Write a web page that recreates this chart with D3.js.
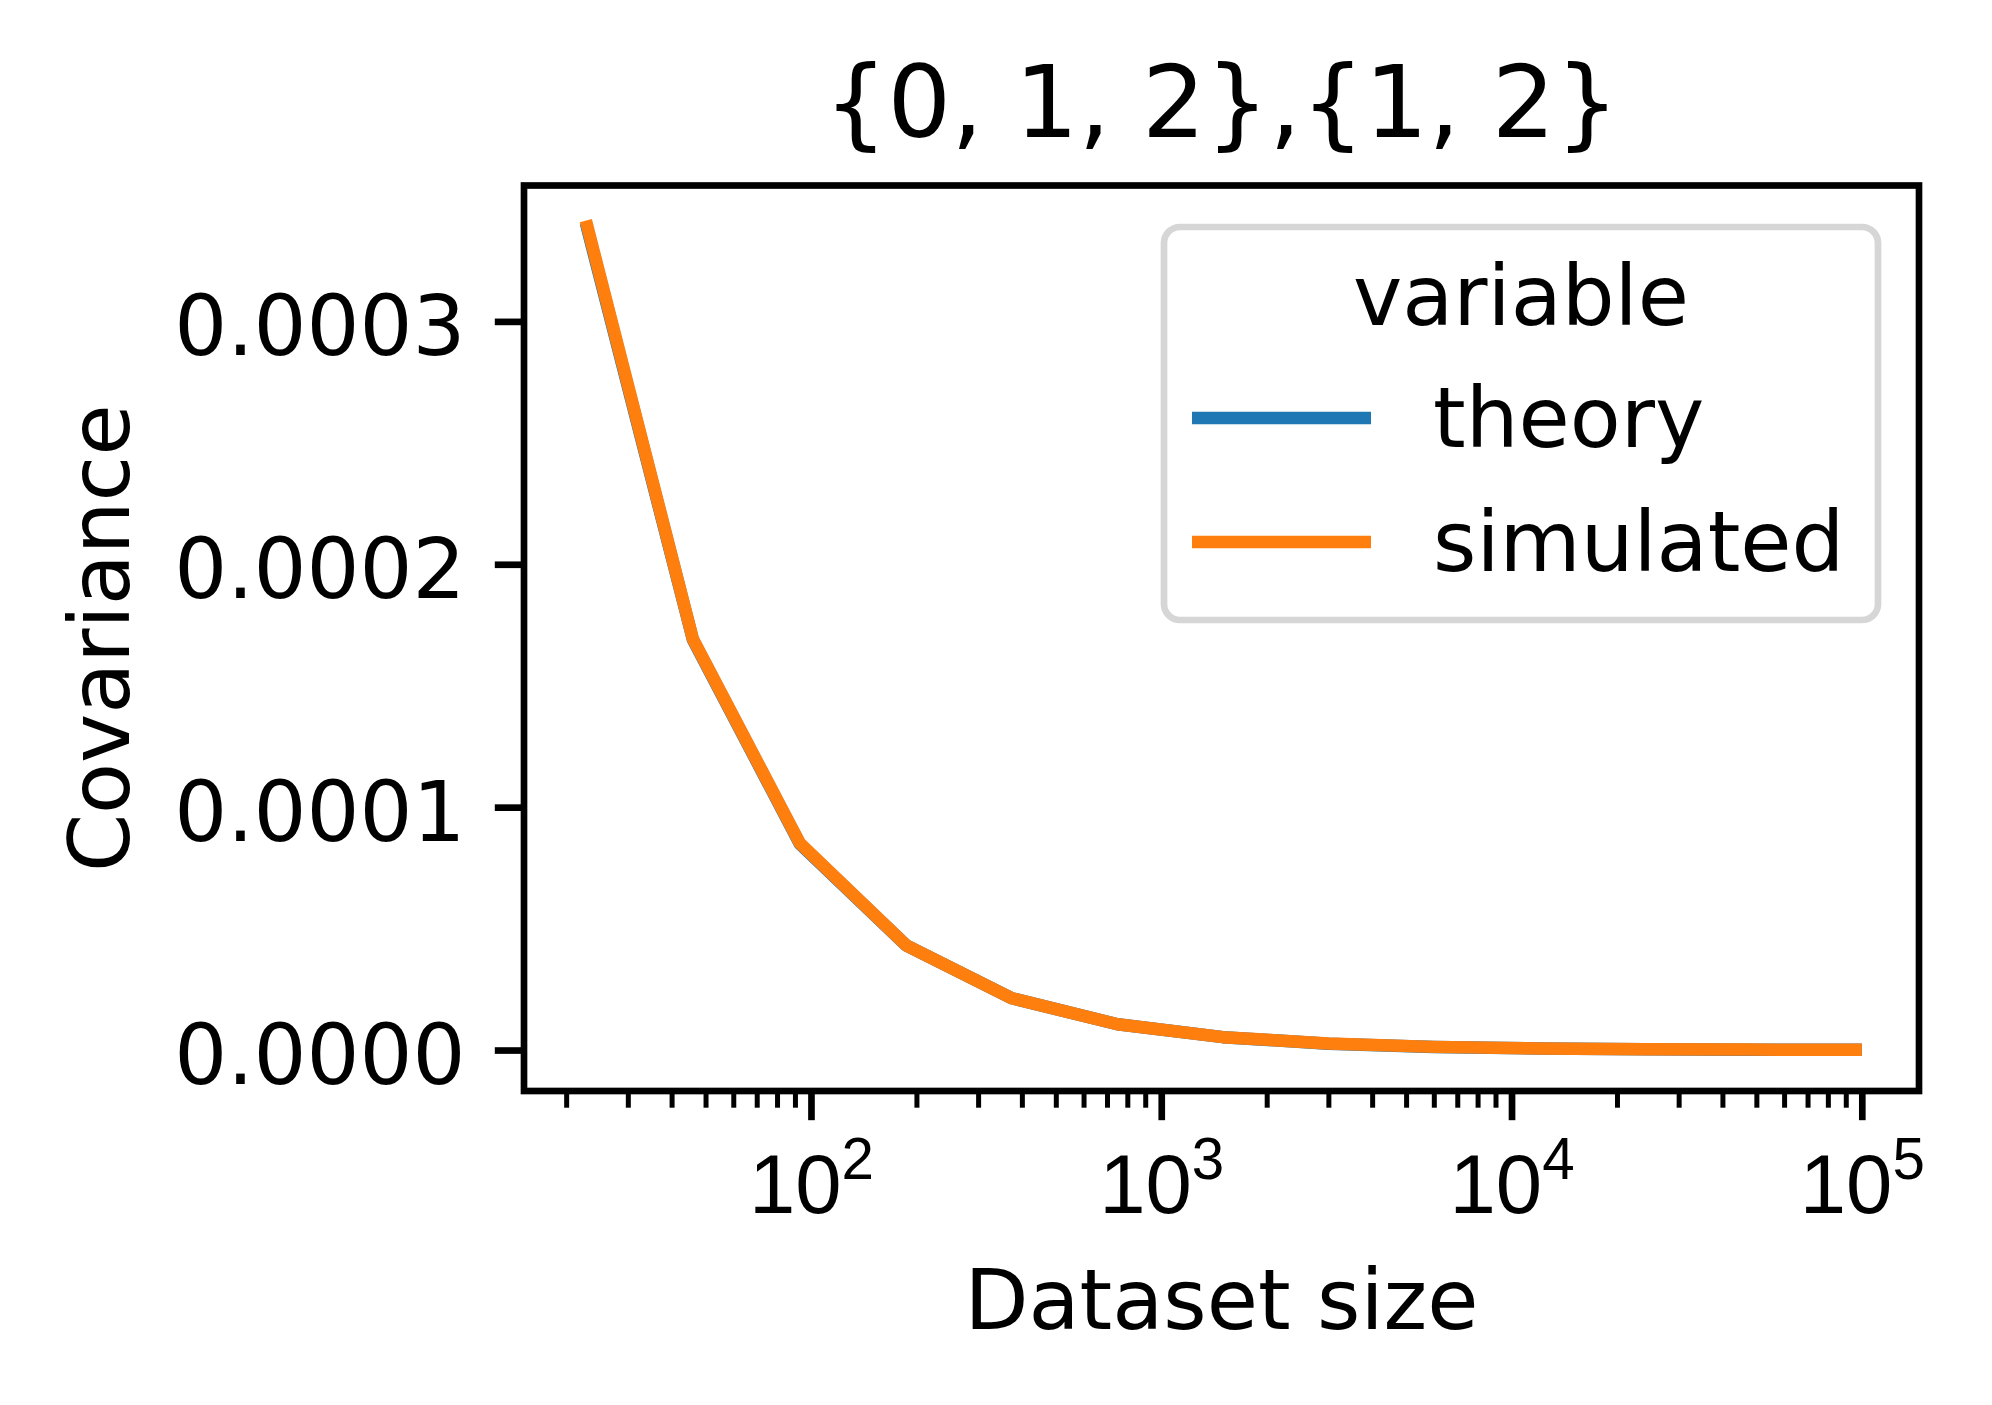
<!DOCTYPE html>
<html>
<head>
<meta charset="utf-8">
<script src="https://cdn.jsdelivr.net/npm/d3@7"></script>
<style>
  html, body { margin: 0; padding: 0; background: #fff; }
  svg { display: block; font-family: "DejaVu Sans", sans-serif; }
</style>
</head>
<body>
<div id="graph"></div>
<script>
// dataset sizes (x) and covariance values
const sizes = [23, 46, 93, 187, 375, 750, 1500, 3000, 6000, 12000, 24000, 48000, 96000];
const theory = [0.000338, 0.0001690, 0.0000848, 0.0000431, 0.0000213, 0.0000106, 0.0000053, 0.0000026, 0.0000013, 0.00000066, 0.00000033, 0.00000016, 0.00000008];
const simulated = [0.000339, 0.0001693, 0.0000851, 0.0000431, 0.0000213, 0.0000106, 0.0000053, 0.0000027, 0.0000013, 0.00000065, 0.00000033, 0.00000017, 0.00000008];
const seriesNames = ["theory", "simulated"];
const seriesColors = ["#1f77b4", "#ff7f0e"];
const yTicks = [0, 0.0001, 0.0002, 0.0003];
const xTicks = [100, 1000, 10000, 100000];
const xTickExp = ["2", "3", "4", "5"];

let width = 1992;
let height = 1405;
let axLeft = 524, axRight = 1919, axTop = 185.5, axBottom = 1091;
let fs = 83.3; // 10pt at 600 dpi

let svg = d3.select("#graph")
    .append("svg")
    .attr("width", width)
    .attr("height", height)
    .attr("viewBox", [0, 0, width, height]);

// matplotlib-style 5% margins
let lx = sizes.map(Math.log10);
let lmin = d3.min(lx), lmax = d3.max(lx), lpad = (lmax - lmin) * 0.05;
let xScale = d3.scaleLog()
    .domain([Math.pow(10, lmin - lpad), Math.pow(10, lmax + lpad)])
    .range([axLeft, axRight]);

let allY = theory.concat(simulated);
let ymin = d3.min(allY), ymax = d3.max(allY), ypad = (ymax - ymin) * 0.05;
let yScale = d3.scaleLinear()
    .domain([ymin - ypad, ymax + ypad])
    .range([axBottom, axTop]);

// minor ticks on the log axis
let minor = [];
for (let e = 1; e <= 5; e++) {
    for (let m = 2; m <= 9; m++) {
        let v = m * Math.pow(10, e);
        if (v >= xScale.domain()[0] && v <= xScale.domain()[1]) minor.push(v);
    }
}

let xMinor = svg.append("g")
    .attr("transform", "translate(0," + axBottom + ")")
    .call(d3.axisBottom(xScale).tickValues(minor).tickSize(16.7).tickFormat(""));
xMinor.select(".domain").remove();
xMinor.selectAll("line").attr("stroke", "#000").attr("stroke-width", 5);

let xMajor = svg.append("g")
    .attr("transform", "translate(0," + axBottom + ")")
    .call(d3.axisBottom(xScale).tickValues(xTicks).tickSize(29.2).tickFormat(""));
xMajor.select(".domain").remove();
xMajor.selectAll("line").attr("stroke", "#000").attr("stroke-width", 6.67);

xMajor.selectAll(".tick").each(function (d, i) {
    let t = d3.select(this).append("text")
        .attr("y", 122)
        .attr("fill", "#000")
        .attr("text-anchor", "middle")
        .attr("font-size", fs + "px");
    t.append("tspan").text("10");
    t.append("tspan").attr("dy", -34).attr("font-size", "58.3px").text(xTickExp[i]);
});

let yAxis = svg.append("g")
    .attr("transform", "translate(" + axLeft + ",0)")
    .call(d3.axisLeft(yScale).tickValues(yTicks).tickSize(29.2).tickPadding(29.2).tickFormat(d3.format(".4f")));
yAxis.select(".domain").remove();
yAxis.selectAll("line").attr("stroke", "#000").attr("stroke-width", 6.67);
yAxis.selectAll("text")
    .attr("fill", "#000")
    .attr("font-size", fs + "px")
    .attr("font-family", "DejaVu Sans")
    .attr("dy", "0.4em");

// lines
let line = d3.line()
    .x((d, i) => xScale(sizes[i]))
    .y(d => yScale(d));

[theory, simulated].forEach(function (vals, k) {
    svg.append("path")
        .datum(vals)
        .attr("fill", "none")
        .attr("stroke", seriesColors[k])
        .attr("stroke-width", 12.5)
        .attr("stroke-linejoin", "round")
        .attr("stroke-linecap", "square")
        .attr("d", line);
});

// frame
svg.append("rect")
    .attr("x", axLeft).attr("y", axTop)
    .attr("width", axRight - axLeft).attr("height", axBottom - axTop)
    .attr("fill", "none")
    .attr("stroke", "#000")
    .attr("stroke-width", 6.67)
    .attr("stroke-linejoin", "miter");

// labels
svg.append("text")
    .attr("x", (axLeft + axRight) / 2).attr("y", 137)
    .attr("text-anchor", "middle")
    .attr("font-size", "100px")
    .text("{0, 1, 2},{1, 2}");

svg.append("text")
    .attr("x", (axLeft + axRight) / 2).attr("y", 1329)
    .attr("text-anchor", "middle")
    .attr("font-size", fs + "px")
    .text("Dataset size");

svg.append("text")
    .attr("transform", "translate(129," + ((axTop + axBottom) / 2) + ") rotate(-90)")
    .attr("text-anchor", "middle")
    .attr("font-size", fs + "px")
    .text("Covariance");

// legend
let lg = svg.append("g");
lg.append("rect")
    .attr("x", 1164).attr("y", 227)
    .attr("width", 714).attr("height", 393)
    .attr("rx", 16).attr("ry", 16)
    .attr("fill", "#fff")
    .attr("fill-opacity", 0.8)
    .attr("stroke", "#d6d6d6")
    .attr("stroke-width", 6.67);

lg.append("text")
    .attr("x", 1521).attr("y", 325)
    .attr("text-anchor", "middle")
    .attr("font-size", fs + "px")
    .text("variable");

seriesNames.forEach(function (name, k) {
    let cy = 418 + k * 124;
    lg.append("line")
        .attr("x1", 1192).attr("x2", 1371)
        .attr("y1", cy).attr("y2", cy)
        .attr("stroke", seriesColors[k])
        .attr("stroke-width", 12.5);
    lg.append("text")
        .attr("x", 1433).attr("y", cy + 29)
        .attr("font-size", fs + "px")
        .text(name);
});
</script>
</body>
</html>
